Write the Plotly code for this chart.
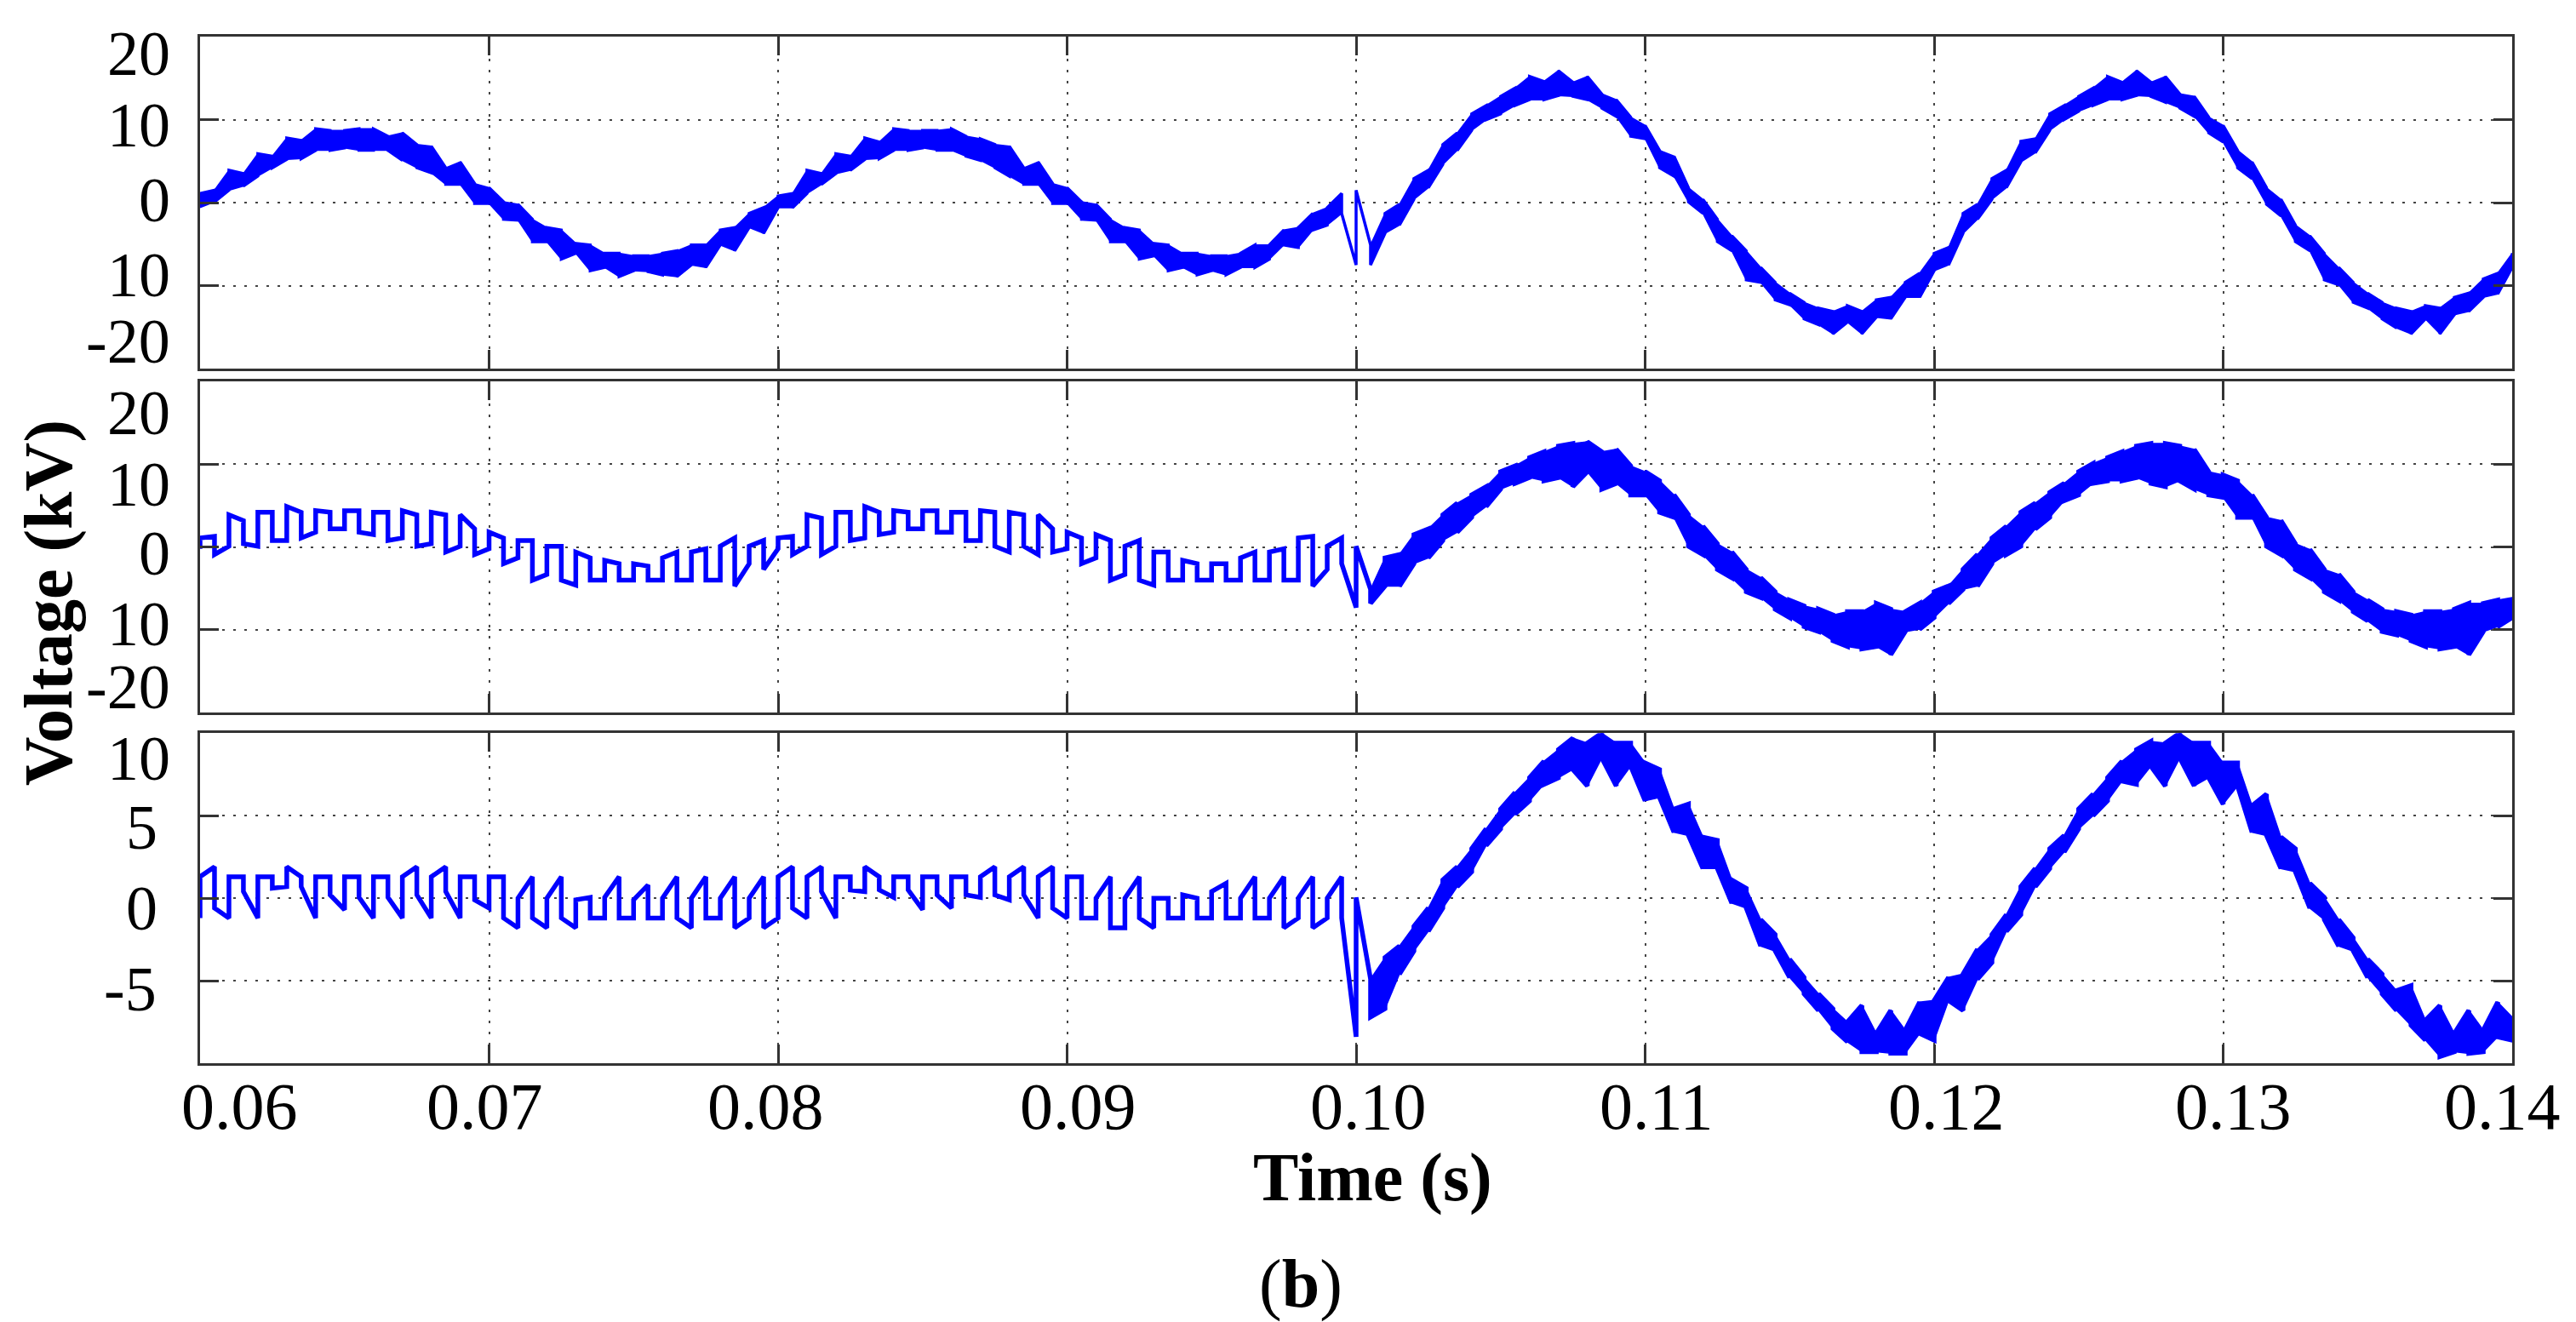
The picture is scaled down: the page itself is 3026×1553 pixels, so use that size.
import plotly.graph_objects as go
from plotly.subplots import make_subplots

# ---------------- data ----------------
time_ms = [
    60.0, 60.5, 61.0, 61.5, 62.0, 62.5, 63.0, 63.5, 64.0, 64.5,
    65.0, 65.5, 66.0, 66.5, 67.0, 67.5, 68.0, 68.5, 69.0, 69.5,
    70.0, 70.5, 71.0, 71.5, 72.0, 72.5, 73.0, 73.5, 74.0, 74.5,
    75.0, 75.5, 76.0, 76.5, 77.0, 77.5, 78.0, 78.5, 79.0, 79.5,
    80.0, 80.5, 81.0, 81.5, 82.0, 82.5, 83.0, 83.5, 84.0, 84.5,
    85.0, 85.5, 86.0, 86.5, 87.0, 87.5, 88.0, 88.5, 89.0, 89.5,
    90.0, 90.5, 91.0, 91.5, 92.0, 92.5, 93.0, 93.5, 94.0, 94.5,
    95.0, 95.5, 96.0, 96.5, 97.0, 97.5, 98.0, 98.5, 99.0, 99.5,
    100.0, 100.5, 101.0, 101.5, 102.0, 102.5, 103.0, 103.5, 104.0, 104.5,
    105.0, 105.5, 106.0, 106.5, 107.0, 107.5, 108.0, 108.5, 109.0, 109.5,
    110.0, 110.5, 111.0, 111.5, 112.0, 112.5, 113.0, 113.5, 114.0, 114.5,
    115.0, 115.5, 116.0, 116.5, 117.0, 117.5, 118.0, 118.5, 119.0, 119.5,
    120.0, 120.5, 121.0, 121.5, 122.0, 122.5, 123.0, 123.5, 124.0, 124.5,
    125.0, 125.5, 126.0, 126.5, 127.0, 127.5, 128.0, 128.5, 129.0, 129.5,
    130.0, 130.5, 131.0, 131.5, 132.0, 132.5, 133.0, 133.5, 134.0, 134.5,
    135.0, 135.5, 136.0, 136.5, 137.0, 137.5, 138.0, 138.5, 139.0, 139.5,
    140.0,
]

# panel 1 (top): upper / lower edge of the switching band, kV
p1_hi = [
    1.1, 1.5, 3.9, 3.5, 5.9, 5.6, 7.8, 7.5, 8.9, 8.7,
    8.7, 8.9, 8.9, 8.0, 8.4, 7.0, 6.8, 4.2, 4.9, 2.3,
    1.8, 0.1, -0.2, -2.0, -3.0, -3.3, -4.9, -5.1, -6.1, -6.1,
    -6.4, -6.4, -6.1, -5.8, -5.1, -5.1, -3.3, -3.0, -1.3, -0.6,
    0.8, 1.1, 3.9, 3.5, 5.9, 5.6, 7.8, 7.3, 8.9, 8.7,
    8.7, 8.7, 8.9, 8.0, 7.7, 7.0, 6.8, 4.2, 4.9, 2.3,
    1.8, 0.1, -0.2, -2.0, -3.0, -3.3, -4.9, -5.1, -6.1, -6.1,
    -6.4, -6.4, -6.1, -5.1, -5.1, -3.3, -3.0, -1.3, -0.6, 1.1,
    1.5, -5.1, -1.3, -0.2, 2.9, 3.9, 7.0, 8.4, 10.7, 11.7,
    12.8, 13.8, 15.2, 14.6, 15.9, 14.5, 15.2, 13.1, 12.4, 10.3,
    9.3, 6.3, 5.6, 1.8, 0.4, -2.0, -4.0, -5.8, -7.8, -9.6,
    -10.9, -12.0, -12.7, -13.1, -12.4, -13.1, -11.7, -11.4, -9.6, -8.5,
    -6.1, -5.4, -1.3, -0.2, 2.9, 3.9, 7.4, 7.7, 10.7, 11.7,
    12.8, 13.8, 15.2, 14.5, 15.9, 14.5, 15.2, 13.1, 12.8, 10.3,
    9.3, 6.3, 4.9, 1.8, 0.4, -2.7, -4.0, -6.1, -7.8, -9.6,
    -10.9, -12.0, -12.7, -13.1, -12.4, -12.7, -11.4, -10.9, -9.2, -8.5,
    -6.1,
]
p1_lo = [
    -0.6, 0.1, 1.5, 2.0, 3.2, 4.2, 5.2, 5.3, 6.3, 6.3,
    6.6, 6.3, 6.3, 6.3, 5.1, 4.2, 3.6, 2.2, 2.2, -0.1,
    -0.1, -2.0, -2.1, -4.7, -4.7, -6.8, -6.1, -8.2, -7.8, -8.9,
    -8.2, -8.3, -8.7, -8.9, -7.5, -7.8, -5.1, -5.8, -3.0, -3.7,
    -0.6, -0.6, 1.1, 2.2, 3.5, 3.9, 5.2, 5.3, 6.3, 6.3,
    6.6, 6.3, 6.3, 5.6, 5.1, 4.2, 3.2, 2.2, 2.2, -0.1,
    -0.1, -2.0, -2.1, -4.7, -4.7, -6.8, -6.4, -8.2, -7.8, -8.7,
    -8.2, -8.7, -7.8, -7.8, -6.8, -5.1, -5.4, -3.3, -2.7, -1.3,
    -7.5, -7.5, -3.7, -2.7, 0.4, 1.8, 4.6, 6.3, 8.7, 10.0,
    10.7, 11.7, 12.4, 12.4, 12.9, 12.8, 12.4, 11.4, 10.4, 8.0,
    7.7, 4.2, 3.2, 0.1, -1.3, -4.7, -5.8, -9.3, -9.6, -11.7,
    -12.3, -14.0, -14.7, -15.8, -14.4, -15.8, -13.8, -14.0, -11.4, -11.4,
    -8.2, -7.5, -3.7, -2.0, 0.4, 1.8, 4.9, 6.0, 8.7, 10.0,
    11.0, 11.7, 12.4, 12.4, 12.9, 12.8, 12.1, 11.4, 10.4, 8.4,
    7.3, 4.2, 2.9, -0.2, -1.6, -4.7, -5.8, -9.3, -9.9, -12.0,
    -12.7, -14.0, -15.1, -15.8, -14.0, -15.8, -13.5, -13.1, -11.4, -11.0,
    -7.8,
]

# panel 2 (middle)
p2_hi = [
    1.1, 1.3, 3.9, 3.2, 4.2, 4.2, 4.9, 4.2, 4.4, 4.2,
    4.4, 4.4, 4.2, 4.2, 4.4, 3.9, 4.2, 3.9, 3.9, 2.2,
    1.8, 1.1, 0.8, 0.8, 0.1, 0.1, -0.6, -1.3, -1.6, -2.0,
    -2.0, -2.3, -1.3, -0.6, -0.6, -0.2, 0.1, 1.1, 0.1, 0.8,
    1.1, 1.3, 3.9, 3.5, 4.2, 4.2, 4.9, 4.2, 4.4, 4.2,
    4.4, 4.4, 4.2, 4.2, 4.4, 4.2, 4.2, 3.9, 3.9, 2.2,
    1.8, 1.1, 1.5, 0.8, 0.1, 0.8, -0.6, -0.6, -1.6, -2.0,
    -2.0, -2.0, -1.3, -0.6, -0.6, -0.2, 1.1, 1.3, 0.1, 1.1,
    0.1, -5.1, -1.3, -0.9, 1.5, 2.2, 3.9, 5.3, 6.3, 7.3,
    9.1, 9.8, 10.8, 11.5, 12.2, 12.5, 12.7, 11.5, 11.8, 9.8,
    9.1, 8.0, 6.3, 3.9, 2.5, 0.4, -0.6, -2.7, -3.7, -5.4,
    -6.4, -7.1, -7.5, -8.2, -7.8, -7.8, -6.8, -7.5, -7.8, -6.8,
    -5.4, -4.7, -2.7, -0.9, 1.1, 2.5, 4.2, 5.3, 6.6, 7.7,
    9.1, 10.1, 10.8, 11.5, 12.2, 12.5, 12.5, 12.2, 11.8, 9.1,
    8.7, 8.0, 6.3, 3.6, 3.2, 0.4, -0.3, -2.7, -3.3, -5.4,
    -6.4, -7.5, -7.8, -8.2, -7.8, -7.8, -7.5, -6.8, -6.8, -6.4,
    -6.1,
]
p2_lo = [
    -0.2, -0.9, 0.1, 0.4, 0.1, 0.8, 0.8, 1.1, 1.8, 2.2,
    2.2, 1.8, 1.5, 0.8, 1.1, 0.1, 0.4, -0.6, 0.1, -0.9,
    -0.2, -2.0, -1.3, -4.0, -3.3, -4.0, -4.6, -4.0, -4.0, -4.0,
    -4.0, -4.0, -4.0, -4.0, -4.0, -4.0, -4.0, -4.7, -2.0, -2.7,
    -0.2, -0.9, 0.1, -0.9, 0.1, 0.8, 1.1, 1.5, 1.8, 2.2,
    2.2, 1.8, 1.8, 0.8, 0.8, 0.1, -0.6, 0.1, -0.9, -0.6,
    -0.2, -2.0, -1.3, -4.0, -3.3, -4.0, -4.6, -4.0, -4.0, -4.0,
    -4.0, -4.0, -4.0, -4.0, -4.0, -4.0, -4.0, -4.7, -2.7, -2.0,
    -7.3, -6.8, -4.7, -4.7, -2.0, -1.3, 0.8, 1.8, 3.6, 4.9,
    7.0, 7.7, 8.4, 8.0, 8.4, 7.3, 9.1, 7.0, 7.7, 6.3,
    6.3, 4.2, 3.6, 0.1, -0.9, -2.7, -3.7, -5.4, -6.1, -7.5,
    -8.5, -9.6, -10.2, -11.3, -12.0, -12.3, -12.0, -13.0, -10.2, -9.9,
    -8.5, -6.8, -5.1, -4.7, -2.0, -0.9, 0.1, 2.2, 3.6, 5.6,
    6.3, 7.7, 8.0, 8.0, 8.4, 7.7, 7.3, 8.0, 7.0, 6.3,
    6.0, 3.6, 3.6, 0.1, -0.9, -2.7, -3.7, -5.4, -6.4, -7.8,
    -8.9, -10.2, -10.6, -11.3, -12.0, -12.3, -12.0, -13.0, -10.2, -9.6,
    -8.5,
]

# panel 3 (bottom)
p3_hi = [
    1.3, 1.9, 1.3, 1.3, 1.3, 1.3, 1.9, 1.3, 1.3, 1.3,
    1.3, 1.3, 1.3, 1.3, 1.3, 1.9, 1.3, 1.9, 1.3, 1.3,
    1.3, 1.3, 0.0, 1.3, 0.0, 1.3, -0.1, 0.05, 0.05, 1.3,
    -0.1, 0.8, 0.0, 1.3, 0.0, 1.3, 0.0, 1.3, 0.0, 1.3,
    1.3, 1.9, 1.3, 1.9, 1.3, 1.3, 1.9, 1.3, 1.3, 1.3,
    1.3, 1.3, 1.3, 1.3, 1.3, 1.9, 1.3, 1.9, 1.3, 1.9,
    1.3, 1.3, 0.0, 1.3, 0.0, 1.3, 0.0, 0.0, 0.2, 0.0,
    0.4, 0.9, 0.0, 1.3, 0.0, 1.3, 0.0, 1.3, 0.0, 1.3,
    0.05, -4.9, -3.6, -2.9, -1.7, -0.6, 1.1, 1.9, 3.0, 4.2,
    5.4, 6.4, 7.3, 8.3, 9.0, 9.7, 9.4, 10.0, 9.4, 9.4,
    8.2, 7.8, 5.4, 5.7, 3.7, 3.5, 1.1, 0.6, -1.3, -2.2,
    -3.7, -4.8, -5.8, -6.7, -7.5, -6.5, -8.2, -6.8, -8.0, -6.3,
    -6.2, -4.8, -4.6, -3.1, -2.2, -1.0, 0.7, 1.8, 3.0, 3.8,
    5.4, 6.3, 7.3, 8.3, 9.0, 9.5, 9.4, 10.0, 9.4, 9.4,
    8.2, 8.2, 5.6, 6.3, 3.7, 3.0, 0.9, 0.05, -1.3, -2.4,
    -3.7, -4.6, -5.6, -5.3, -7.4, -6.5, -8.2, -6.8, -8.0, -6.3,
    -7.2,
]
p3_lo = [
    -1.2, -0.6, -1.2, 0.4, -1.2, 0.6, 0.7, 0.7, -1.2, 0.2,
    -0.7, 0.05, -1.2, 0.05, -1.2, 0.2, -1.2, 0.4, -1.2, -0.1,
    -0.6, -1.2, -1.8, -1.2, -1.8, -1.2, -1.8, -1.2, -1.2, -1.2,
    -1.2, -1.2, -1.2, -1.2, -1.8, -1.2, -1.2, -1.8, -1.2, -1.8,
    -1.2, -0.6, -1.2, 0.4, -1.2, 0.5, 0.4, 0.5, 0.05, 0.5,
    -0.7, 0.2, -0.6, 0.2, 0.05, 0.2, -0.1, 0.2, -1.2, -0.6,
    -1.2, -1.2, -1.2, -1.8, -1.8, -1.2, -1.8, -1.2, -1.2, -1.2,
    -1.2, -1.2, -1.2, -1.2, -1.2, -1.8, -1.2, -1.8, -1.2, -1.2,
    -8.4, -7.2, -6.7, -4.6, -3.2, -2.0, -0.6, 0.7, 1.6, 3.2,
    4.2, 5.1, 5.9, 6.9, 7.3, 7.8, 6.8, 8.5, 6.8, 8.0,
    5.9, 6.1, 4.0, 3.8, 1.8, 1.8, -0.3, -0.6, -2.9, -3.2,
    -4.8, -5.8, -6.8, -7.9, -8.7, -9.3, -9.3, -9.4, -9.4, -8.2,
    -8.6, -6.2, -6.8, -4.9, -3.9, -2.0, -1.0, 0.7, 1.8, 2.8,
    4.2, 5.0, 5.9, 7.1, 6.9, 8.0, 6.8, 8.5, 6.8, 7.3,
    5.7, 6.8, 4.0, 3.8, 1.8, 1.6, -0.6, -1.3, -2.9, -3.2,
    -4.8, -5.8, -6.8, -7.7, -8.6, -9.6, -9.3, -9.4, -9.3, -8.4,
    -8.6,
]

x_tick_vals = [0.06, 0.07, 0.08, 0.09, 0.10, 0.11, 0.12, 0.13, 0.14]
x_tick_text = ["0.06", "0.07", "0.08", "0.09", "0.10", "0.11", "0.12", "0.13", "0.14"]
y12_tick_vals = [-20, -10, 0, 10, 20]
y12_tick_text = ["-20", "10", "0", "10", "20"]
y3_tick_vals = [-10, -5, 0, 5, 10]
y3_tick_text = ["-10", "-5", "0", "5", "10"]

# ---------------- label placement / styling (not data) ----------------
x_label_pos = [0.06137, 0.06985, 0.07956, 0.09037, 0.10043, 0.11039, 0.12044, 0.13036, 0.13966]
y1_label_pos = [-16.7, -8.7, 0.3, 9.3, 18.0]
y2_label_pos = [-16.9, -9.3, -0.8, 7.55, 16.2]
y3_label_pos = [-10.2, -5.5, -0.6, 4.3, 8.45]
y3_label_x = [-0.0123, -0.0180, -0.0177, -0.0177, -0.0123]
# index ranges of each panel drawn as a dense (filled) switching band
dense_ranges = {1: [(0, 79), (81, 160)], 2: [(81, 160)], 3: [(81, 160)]}

FONT = "Liberation Serif"
BLUE = "#0000FF"
FS_X = 78
FS_Y = 74


def band_path(t_ms, hi, lo):
    xs, ys = [], []
    for i, (tt, h, l) in enumerate(zip(t_ms, hi, lo)):
        xs += [tt / 1000.0, tt / 1000.0]
        ys += [l, h] if i % 2 == 0 else [h, l]
    return xs, ys


def band_polygon(t_ms, hi, lo, a, b):
    ts = [tt / 1000.0 for tt in t_ms[a:b + 1]]
    return ts + ts[::-1], list(hi[a:b + 1]) + list(lo[a:b + 1])[::-1]


fig = make_subplots(rows=3, cols=1, shared_xaxes=True)
series = {1: (p1_hi, p1_lo), 2: (p2_hi, p2_lo), 3: (p3_hi, p3_lo)}
for row, (hi, lo) in series.items():
    for a, b in dense_ranges[row]:
        px, py = band_polygon(time_ms, hi, lo, a, b)
        fig.add_trace(go.Scatter(x=px, y=py, mode="lines", fill="toself",
                                 fillcolor=BLUE, line=dict(color=BLUE, width=1.5),
                                 showlegend=False, hoverinfo="skip"),
                      row=row, col=1)
    xs, ys = band_path(time_ms, hi, lo)
    fig.add_trace(go.Scatter(x=xs, y=ys, mode="lines",
                             line=dict(color=BLUE, width=5.5 if row > 1 else 3.5),
                             showlegend=False, hoverinfo="skip"),
                  row=row, col=1)

axis_common = dict(
    showline=True, linecolor="#333333", linewidth=3, mirror="ticks",
    ticks="inside", ticklen=22, tickwidth=3, tickcolor="#333333",
    showgrid=True, gridcolor="#444444", gridwidth=2, griddash="3px,10px",
    zeroline=False, showticklabels=False,
)

domains = {1: [0.6765, 1.0], 2: [0.3414, 0.6641], 3: [0.0, 0.3215]}
for r in (1, 2, 3):
    fig.update_xaxes(range=[0.06, 0.14], tickvals=x_tick_vals, row=r, col=1, **axis_common)
    fig.update_yaxes(domain=domains[r], row=r, col=1, **axis_common)
fig.update_yaxes(range=[-20, 20], tickvals=y12_tick_vals, row=1, col=1)
fig.update_yaxes(range=[-20, 20], tickvals=y12_tick_vals, row=2, col=1)
fig.update_yaxes(range=[-10, 10], tickvals=y3_tick_vals, row=3, col=1)

annotations = []
# x tick labels
for pos, txt in zip(x_label_pos, x_tick_text):
    annotations.append(dict(x=pos, xref="x3", y=-0.0420, yref="paper",
                            text=txt, showarrow=False, xanchor="center", yanchor="middle",
                            font=dict(family=FONT, size=FS_X, color="black")))
# y tick labels
for yref, poss, txts, xs in [("y", y1_label_pos, y12_tick_text, [-0.0123] * 5),
                             ("y2", y2_label_pos, y12_tick_text, [-0.0123] * 5),
                             ("y3", y3_label_pos, y3_tick_text, y3_label_x)]:
    for pos, txt, xp in zip(poss, txts, xs):
        annotations.append(dict(x=xp, xref="paper", y=pos, yref=yref,
                                text=txt, showarrow=False, xanchor="right", yanchor="middle",
                                font=dict(family=FONT, size=FS_Y, color="black")))
# axis titles and panel tag
annotations.append(dict(x=-0.0655, xref="paper", y=0.4484, yref="paper",
                        text="<b>Voltage (kV)</b>", textangle=-90, showarrow=False,
                        xanchor="center", yanchor="middle",
                        font=dict(family=FONT, size=80, color="black")))
annotations.append(dict(x=0.5073, xref="paper", y=-0.1112, yref="paper",
                        text="<b>Time (s)</b>", showarrow=False,
                        xanchor="center", yanchor="middle",
                        font=dict(family=FONT, size=80, color="black")))
annotations.append(dict(x=0.4761, xref="paper", y=-0.215, yref="paper",
                        text="(<b>b</b>)", showarrow=False,
                        xanchor="center", yanchor="middle",
                        font=dict(family=FONT, size=80, color="black")))

fig.update_layout(
    width=3026, height=1553,
    margin=dict(l=227, r=83, t=35, b=312),
    paper_bgcolor="white", plot_bgcolor="white",
    annotations=annotations,
    showlegend=False,
)

fig.write_html("out.html")
